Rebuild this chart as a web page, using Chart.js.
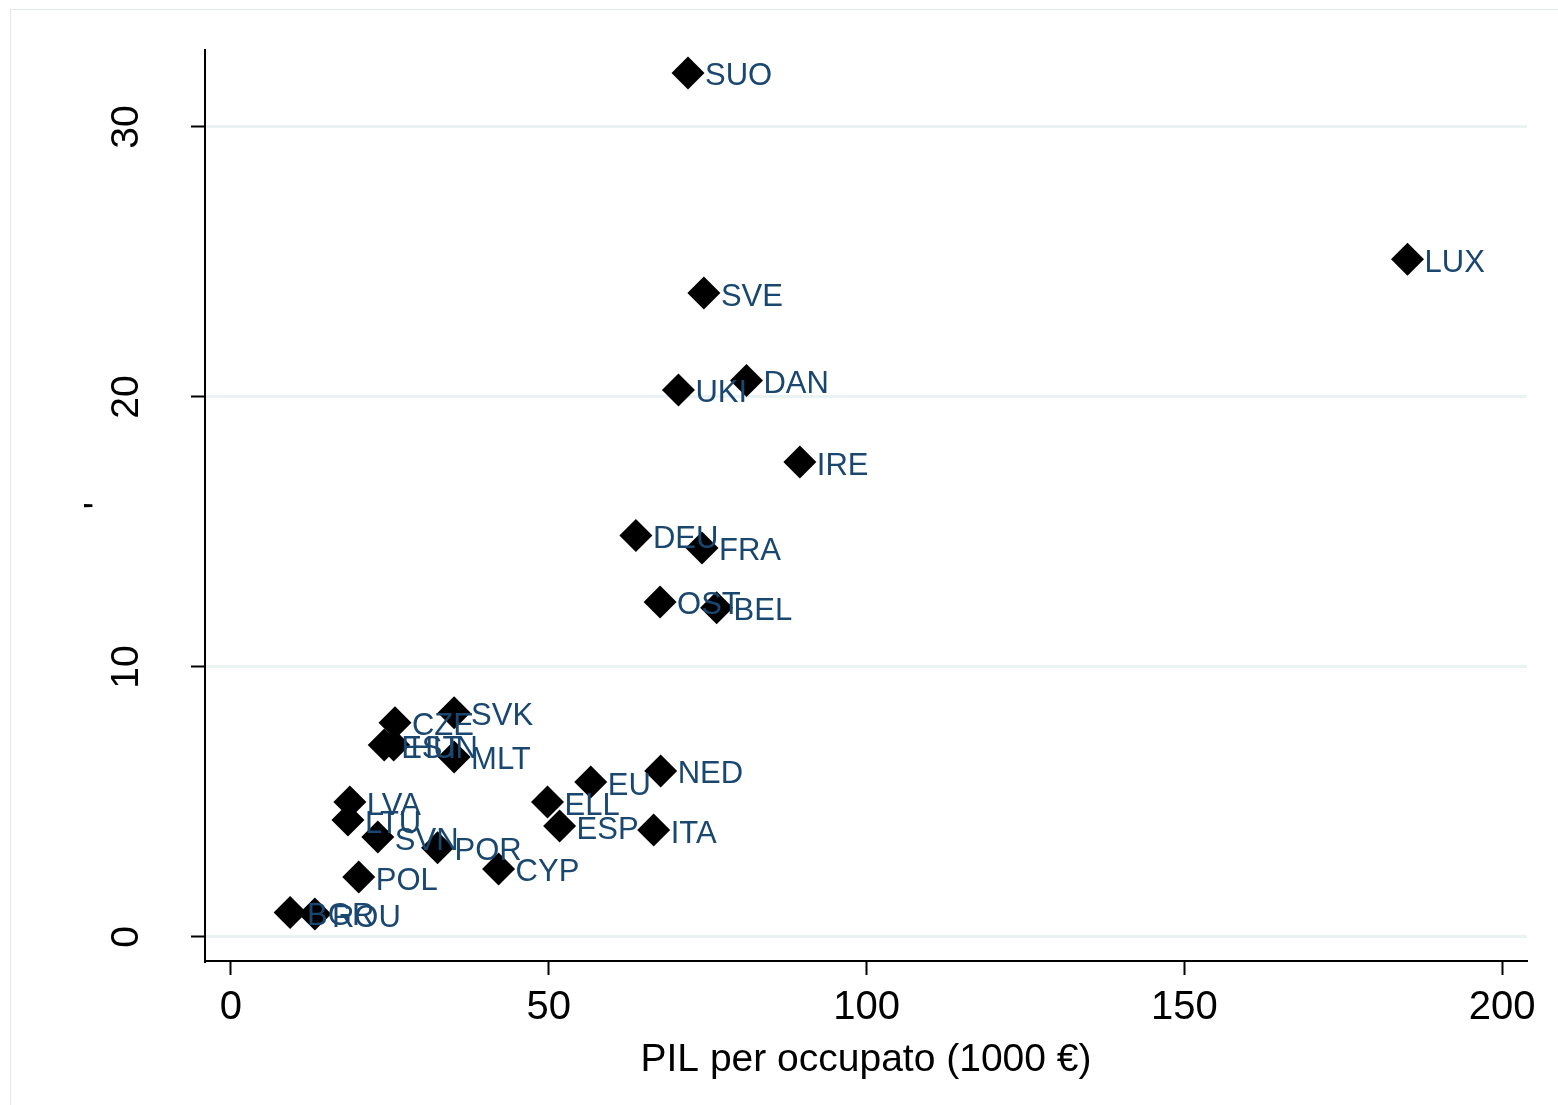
<!DOCTYPE html>
<html>
<head>
<meta charset="utf-8">
<script src="https://cdn.jsdelivr.net/npm/chart.js@4.4.1/dist/chart.umd.min.js"></script>
<style>
    html, body { margin: 0; padding: 0; background: #fff; overflow: hidden; }
    #wrap { position: absolute; left: 0; top: 0; width: 1558px; height: 1105px; }
    #frame { position: absolute; left: 10px; top: 9px; width: 1600px; height: 1200px;
             border-top: 1px solid #e2e8ea; border-left: 1px solid #e2e8ea; }
</style>
</head>
<body>
<div id="frame"></div>
<div id="wrap"><canvas id="chart"></canvas></div>
<script>
// Scatter: PIL per occupato vs. y variable, Stata-style markers with country labels.
const countries = ['SUO', 'LUX', 'SVE', 'DAN', 'UKI', 'IRE', 'DEU', 'FRA', 'OST', 'BEL',
    'SVK', 'CZE', 'EST', 'HUN', 'MLT', 'EU', 'NED', 'LVA', 'ELL', 'LTU',
    'SVN', 'ESP', 'ITA', 'POR', 'CYP', 'POL', 'BGR', 'ROU'];
const pilPerOccupato = [71.9, 185.1, 74.4, 81.1, 70.4, 89.5, 63.7, 74.1, 67.5, 76.4,
    35.1, 25.8, 24.1, 25.6, 35.1, 56.6, 67.6, 18.7, 49.8, 18.4,
    23.1, 51.7, 66.5, 32.5, 42.1, 20.1, 9.3, 13.2];
const yValues = [32.0, 25.1, 23.85, 20.61, 20.26, 17.59, 14.87, 14.41, 12.41, 12.19,
    8.30, 7.93, 7.11, 7.11, 6.67, 5.74, 6.15, 5.0, 5.0, 4.33,
    3.70, 4.11, 3.96, 3.30, 2.52, 2.22, 0.91, 0.85];
const xTickValues = [0, 50, 100, 150, 200];
const yTickValues = [0, 10, 20, 30];

const FONT = '"Liberation Sans", Arial, Helvetica, sans-serif';
const LABEL_COLOR = '#1a476f';

const pointLabels = {
    id: 'pointLabels',
    afterDatasetsDraw(chart) {
        const ctx = chart.ctx;
        const meta = chart.getDatasetMeta(0);
        ctx.save();
        ctx.font = '31px ' + FONT;
        ctx.fillStyle = LABEL_COLOR;
        ctx.textAlign = 'left';
        ctx.textBaseline = 'middle';
        meta.data.forEach((pt, i) => {
            ctx.fillText(countries[i], pt.x + 17, pt.y + 4);
        });
        ctx.restore();
    },
};

new Chart(document.getElementById('chart'), {
    type: 'scatter',
    data: {
        datasets: [{
            data: pilPerOccupato.map((x, i) => ({ x: x, y: yValues[i] })),
            pointStyle: 'rectRot',
            pointRadius: 16.5,
            pointHoverRadius: 16.5,
            backgroundColor: '#000',
            borderColor: '#000',
            borderWidth: 0,
        }],
    },
    options: {
        responsive: true,
        maintainAspectRatio: false,
        animation: false,
        layout: { padding: { left: 0, top: 50, right: 31, bottom: 0 } },
        plugins: { legend: { display: false }, tooltip: { enabled: false } },
        scales: {
            x: {
                type: 'linear',
                min: -4.09,
                max: 203.9,
                afterBuildTicks: (s) => { s.ticks = xTickValues.map((v) => ({ value: v })); },
                afterFit: (s) => { s.height = 144; s.paddingLeft = 0; s.paddingRight = 0; },
                border: { display: true, color: '#000', width: 2 },
                grid: { drawOnChartArea: false, drawTicks: true, tickLength: 14, tickColor: '#000', tickWidth: 2 },
                ticks: { color: '#000', font: { family: FONT, size: 40 }, padding: 9, maxRotation: 0 },
                title: { display: true, text: 'PIL per occupato (1000 €)', color: '#000',
                         font: { family: FONT, size: 39 }, padding: 21 },
            },
            y: {
                type: 'linear',
                min: -0.89,
                max: 32.85,
                afterBuildTicks: (s) => { s.ticks = yTickValues.map((v) => ({ value: v })); },
                afterFit: (s) => { s.width = 205; s.paddingTop = 0; s.paddingBottom = 0; },
                border: { display: true, color: '#000', width: 2 },
                grid: { color: '#eaf2f3', lineWidth: 3, drawTicks: true, tickLength: 14, tickColor: '#000', tickWidth: 2 },
                ticks: { color: '#000', font: { family: FONT, size: 39 }, padding: 42,
                         minRotation: 90, maxRotation: 90, crossAlign: 'center' },
                title: { display: true, text: '\'', color: '#000',
                         font: { family: FONT, size: 38 }, padding: 78 },
            },
        },
    },
    plugins: [pointLabels],
});
</script>
</body>
</html>
